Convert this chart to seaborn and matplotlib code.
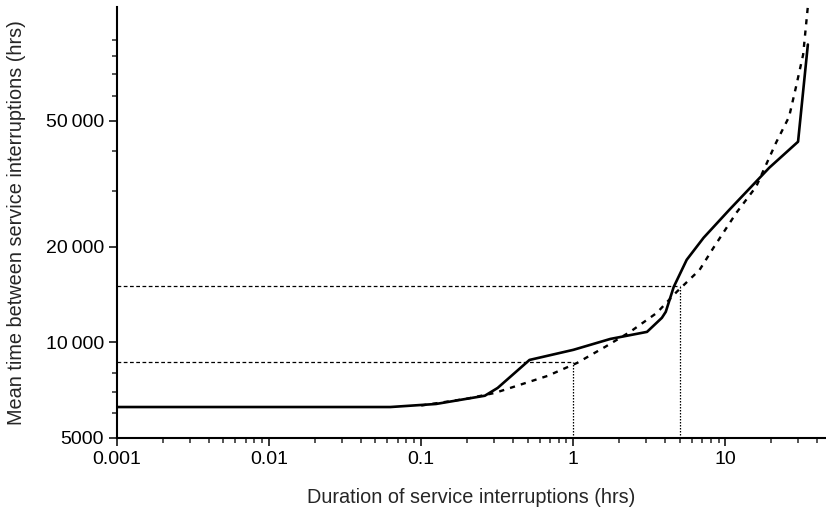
import numpy as np
import pandas as pd
import seaborn as sns
import matplotlib
matplotlib.use("Agg")
import matplotlib.pyplot as plt
from matplotlib.ticker import FixedLocator, NullFormatter

# observed curve (solid)
obs_hrs = [0.001, 0.0627, 0.125, 0.262, 0.318, 0.515, 1.0, 1.75, 3.05, 3.82, 4.05,
           4.57, 5.56, 7.18, 10.6, 19.4, 30.0, 34.8]
obs_mtbsi = [6260, 6260, 6400, 6795, 7190, 8810, 9480, 10260, 10800, 11960, 12490,
             14970, 18220, 21380, 26190, 35540, 42930, 86900]

# fitted curve (dashed)
fit_hrs = [0.1, 0.2, 0.305, 0.676, 1.06, 1.62, 2.36, 3.54, 4.78, 6.76, 8.33,
           11.8, 15.9, 21.5, 26.2, 29.1, 32.4, 34.8]
fit_mtbsi = [6330, 6650, 6935, 7845, 8624, 9690, 10800, 12400, 14440, 16940, 19870,
             25640, 30970, 42620, 51460, 63980, 80760, 114600]

# reference readings
ref_hrs = [1, 5]
ref_mtbsi = [8700, 15090]

y_ticks = [5000, 10000, 20000, 50000]
y_labels = ["5000", "10\u2009000", "20\u2009000", "50\u2009000"]
y_minor = [6000, 7000, 8000, 30000, 40000, 60000, 70000, 80000, 90000]
x_ticks = [0.001, 0.01, 0.1, 1, 10]
x_labels = ["0.001", "0.01", "0.1", "1", "10"]

sns.set_style("ticks")
plt.rcParams["font.family"] = ["Liberation Sans", "DejaVu Sans"]

fig = plt.figure(figsize=(8.26, 5.09), dpi=100)
ax = fig.add_axes([0.1416, 0.1395, 0.857, 0.8465])

obs = pd.DataFrame({"hrs": obs_hrs, "mtbsi": obs_mtbsi})
fit = pd.DataFrame({"hrs": fit_hrs, "mtbsi": fit_mtbsi})

xmin, ymin = 0.001, 5000
for h, m in zip(ref_hrs, ref_mtbsi):
    ax.plot([xmin, h], [m, m], color="black", lw=0.9, ls=(0, (3, 2)))
    ax.plot([h, h], [ymin, m], color="black", lw=0.9, ls=(0, (1.2, 1.2)))

sns.lineplot(data=fit, x="hrs", y="mtbsi", ax=ax, color="black", lw=1.7,
             linestyle=(0, (2.2, 2.6)), estimator=None, sort=False)
sns.lineplot(data=obs, x="hrs", y="mtbsi", ax=ax, color="black", lw=1.9,
             estimator=None, sort=False)

ax.set_xscale("log")
ax.set_yscale("log")
ax.set_xlim(0.001, 45)
ax.set_ylim(5000, 114000)

ax.set_xticks(x_ticks)
ax.set_xticklabels(x_labels)
ax.set_yticks(y_ticks)
ax.set_yticklabels(y_labels)
ax.yaxis.set_minor_locator(FixedLocator(y_minor))
ax.yaxis.set_minor_formatter(NullFormatter())

ax.tick_params(axis="both", which="major", direction="out", length=6, width=1.1,
               labelsize=14, colors="black")
ax.tick_params(axis="both", which="minor", direction="out", length=3.5, width=1.1)

for s in ["left", "bottom"]:
    ax.spines[s].set_linewidth(1.5)
    ax.spines[s].set_color("black")
sns.despine(ax=ax)

ax.set_xlabel("Duration of service interruptions (hrs)", fontsize=14.3, labelpad=14)
ax.set_ylabel("Mean time between service interruptions (hrs)", fontsize=14.3, labelpad=14)

fig.savefig("out.png", dpi=100)
